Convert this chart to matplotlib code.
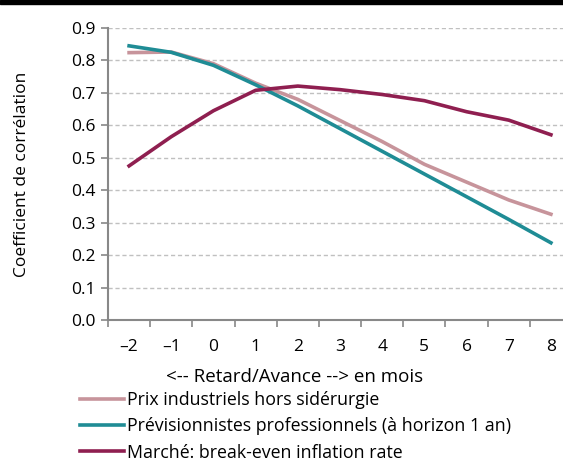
import matplotlib.pyplot as plt
from matplotlib.patches import Rectangle

plt.rcParams['font.family'] = ['Open Sans', 'DejaVu Sans']

mois = [-2, -1, 0, 1, 2, 3, 4, 5, 6, 7, 8]
prix_industriels = [0.824, 0.826, 0.790, 0.730, 0.680, 0.615, 0.550, 0.480, 0.425, 0.370, 0.326]
previsionnistes = [0.845, 0.825, 0.785, 0.725, 0.660, 0.590, 0.520, 0.450, 0.380, 0.310, 0.238]
marche = [0.475, 0.565, 0.645, 0.708, 0.721, 0.710, 0.695, 0.676, 0.642, 0.616, 0.571]
y_ticks = [0.0, 0.1, 0.2, 0.3, 0.4, 0.5, 0.6, 0.7, 0.8, 0.9]

fig = plt.figure(figsize=(5.63, 4.66), dpi=100)
fig.patches.append(Rectangle((0, 0.991), 1, 0.009, transform=fig.transFigure,
                             color='black', zorder=5))

ax = fig.add_axes([108 / 563, 146 / 466, 464 / 563, 292 / 466])

ax.plot(mois, prix_industriels, color='#c7949b', lw=2.6, label='Prix industriels hors sidérurgie')
ax.plot(mois, previsionnistes, color='#1f8c95', lw=2.6, label='Prévisionnistes professionnels (à horizon 1 an)')
ax.plot(mois, marche, color='#8f1f50', lw=2.6, label='Marché: break-even inflation rate')

ax.set_xlim(-2.5, 8.5)
ax.set_ylim(0, 0.9)
ax.set_yticks(y_ticks)
ax.set_yticklabels([f'{v:.1f}' for v in y_ticks], fontsize=12.5)
ax.set_xticks(mois)
ax.set_xticklabels([str(m).replace('-', '–') for m in mois], fontsize=12.5)
ax.set_xticks([m - 0.5 for m in mois], minor=True)
ax.tick_params(axis='x', which='major', length=0, pad=14)
ax.tick_params(axis='x', which='minor', length=5, color='#888888', width=1.2)
ax.tick_params(axis='y', length=5, color='#888888', width=1.2, pad=4)

ax.grid(axis='y', linestyle=(0, (3, 2)), color='#c0c0c0', lw=1)
ax.set_axisbelow(True)
for s in ['top', 'right']:
    ax.spines[s].set_visible(False)
for s in ['left', 'bottom']:
    ax.spines[s].set_color('#888888')
    ax.spines[s].set_linewidth(1.5)

ax.set_xlabel('<-- Retard/Avance --> en mois', fontsize=13.5, va='center')
ax.xaxis.set_label_coords((295 - 108) / 464, -(377 - 320) / 292)
ax.set_ylabel('Coefficient de corrélation', fontsize=12.5, va='center')
ax.yaxis.set_label_coords(-(108 - 22) / 464, 0.5)

fig.legend(loc='upper left', bbox_to_anchor=(80 / 563, 1 - 391 / 466), frameon=False,
           fontsize=12.8, handlelength=2.5, handletextpad=0.15, labelspacing=0.47,
           borderpad=0, borderaxespad=0)

fig.savefig('out.png', dpi=100)
